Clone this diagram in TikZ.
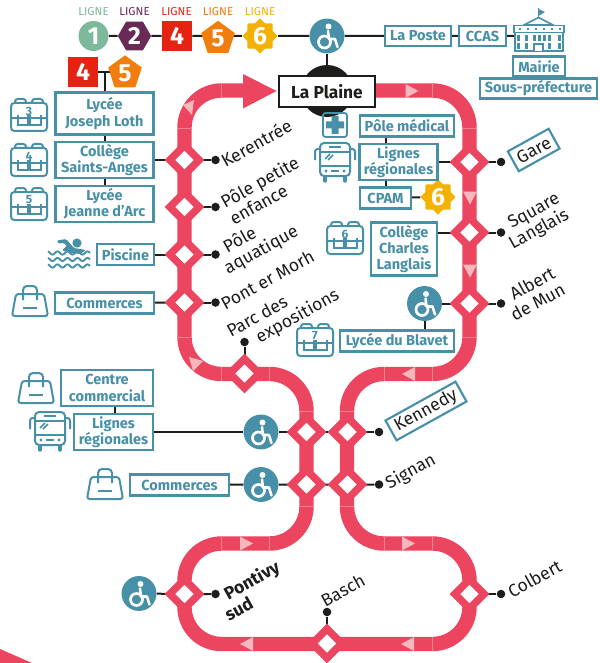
\documentclass[tikz,border=0pt]{standalone}
\usepackage{fontspec}
\setmainfont{Fira Sans}
\usetikzlibrary{shapes.geometric,calc}
\definecolor{tk}{HTML}{EC4560}
\definecolor{tkl}{HTML}{F4808F}
\definecolor{pk}{HTML}{F7B7BB}
\definecolor{tl}{HTML}{4790A8}
\definecolor{ink}{HTML}{1D1D1B}
\definecolor{c1}{HTML}{7DB99A}
\definecolor{c2}{HTML}{6A2A56}
\definecolor{c4}{HTML}{E42313}
\definecolor{c5}{HTML}{F07D0E}
\definecolor{c6}{HTML}{F3B202}
\pgfdeclarelayer{back}
\pgfsetlayers{back,main}
\tikzset{
  tb/.style={draw=tl,line width=1.6pt,fill=white,text=tl,inner sep=0pt,align=center,
    font=\fontsize{10.9}{12.2}\selectfont\bfseries},
  conn/.style={draw=ink,line width=1.5pt},
  dia/.style={diamond,aspect=1,draw=tk,fill=white,line width=5.5pt,inner sep=0pt,outer sep=0pt,minimum width=22pt,minimum height=22pt,miter limit=10},
  dot/.style={circle,fill=ink,inner sep=0pt,minimum size=6.4pt},
  wc/.style={circle,fill=tl,inner sep=0pt,minimum size=26.2pt},
  lab/.style={rotate=29,anchor=west,text=ink,inner sep=0pt,font=\fontsize{13.2}{14}\selectfont},
  num/.style={text=white,inner sep=0pt,font=\fontsize{18.5}{18.5}\selectfont\bfseries},
  ligne/.style={inner sep=0pt,font=\fontsize{8.6}{9}\selectfont},
  pkarrow/.style={fill=pk},
  wheel/.pic={
    \fill[white] (1.5,-9.5) circle (3);
    \draw[white,line width=2pt] (-2.5,6) circle (6);
    \draw[white,line width=1.9pt,line cap=round,line join=round] (1,-5) -- (2,3) -- (8,3) -- (10.5,11);
  },
  schoolbag/.pic={
    \draw[tl,line width=1.5pt,rounded corners=2.5pt] (-18,-12) rectangle (18,16);
    \draw[tl,line width=1.5pt,rounded corners=2pt] (-14,-12) -- (-14,-16) -- (-3,-16) -- (-3,-12);
    \draw[tl,line width=1.5pt,rounded corners=2pt] (3,-12) -- (3,-16) -- (14,-16) -- (14,-12);
    \draw[tl,line width=1.5pt] (-18,3) -- (18,3);
    \draw[tl,line width=1.5pt] (-11,0) -- (-11,10) -- (-1,10) -- (-1,0);
    \draw[tl,line width=1.5pt] (1,0) -- (1,10) -- (12,10) -- (12,0);
    \node[text=tl,inner sep=0pt,font=\fontsize{9}{9}\selectfont\bfseries] at (0,-4) {#1};
  },
  shopbag/.pic={
    \draw[tl,line width=1.5pt,rounded corners=2pt] (-14,-7) -- (14,-7) -- (18,15) -- (-18,15) -- cycle;
    \draw[tl,line width=1.5pt,rounded corners=3pt] (-7,-1) -- (-7,-15) -- (7,-15) -- (7,-1);
    \draw[tl,line width=1.5pt] (-7,7) -- (7,7);
  },
  buspic/.pic={
    \draw[tl,line width=1.5pt,rounded corners=3pt] (-15,-20) rectangle (15,13);
    \draw[tl,line width=1.5pt] (-15,-11) -- (15,-11);
    \draw[tl,line width=1.5pt] (-15,3) -- (15,3);
    \draw[tl,line width=1.5pt] (-6,-16) -- (6,-16);
    \draw[tl,line width=1.2pt] (-10,-4) -- (-5,-9) (-7,-3) -- (-2,-8);
    \fill[tl] (-9,8) circle (1.6) (9,8) circle (1.6);
    \draw[tl,line width=1.2pt] (-4,8) -- (4,8);
    \draw[tl,line width=1.5pt,rounded corners=2pt] (-15,-14) -- (-20,-14) -- (-20,-3);
    \draw[tl,line width=1.5pt,rounded corners=2pt] (15,-14) -- (20,-14) -- (20,-3);
    \draw[tl,line width=2.6pt,line cap=round] (-10,14) -- (-10,18) (10,14) -- (10,18);
  },
}
\newcommand{\tbx}[6]{\node[tb,minimum width=#4*0.75pt-1.5pt,minimum height=#5*0.75pt-1.5pt] (#1) at (#2,#3) {#6};}
\newcommand{\pkr}[2]{\fill[pkarrow] (#1-6.5,#2-7) -- (#1+6.5,#2) -- (#1-6.5,#2+7) -- cycle;}
\newcommand{\pkl}[2]{\fill[pkarrow] (#1+6.5,#2-7) -- (#1-6.5,#2) -- (#1+6.5,#2+7) -- cycle;}
\newcommand{\pkd}[2]{\fill[pkarrow] (#1-7,#2-6.5) -- (#1,#2+6.5) -- (#1+7,#2-6.5) -- cycle;}
\begin{document}
\begin{tikzpicture}[x=0.75pt,y=-0.75pt]
\useasboundingbox (0,0) rectangle (599,663);
\begin{pgfonlayer}{back}
\fill[white] (0,0) rectangle (599,663);
\end{pgfonlayer}
% partial shape at the bottom-left edge
\fill[tk] (0,649) -- (32,663) -- (0,663) -- cycle;
% track
\draw[tk,line width=10.8pt,rounded corners=27.75pt] (243,90.5) -- (184.5,90.5) -- (184.5,374) -- (306.5,374) -- (306.5,543.5) -- (184.5,543.5) -- (184.5,644) -- (469.5,644) -- (469.5,543.5) -- (347,543.5) -- (347,374) -- (469.5,374) -- (469.5,90.5) -- (360,90.5);
\fill[tk] (243,74) -- (276.5,91) -- (243,108.5) -- cycle;
% joints
\foreach \a/\b in {221.5/90.5,432.5/90.5,221.5/374,269.5/374,384/374,432.5/374,221.5/543.5,269.5/543.5,384/543.5,432.5/543.5,432.5/644}
  \draw[tkl,line width=0.5pt] (\a,\b-7.2) -- (\a,\b+7.2);
\foreach \a/\b in {184.5/128,469.5/128,184.5/337,469.5/337,347/411,306.5/411,347/506.5,306.5/506.5}
  \draw[tkl,line width=0.5pt] (\a-7.2,\b) -- (\a+7.2,\b);
% direction marks
\pkr{412}{91}\pkd{470}{198}\pkd{470}{271}\pkl{408.5}{374}\pkr{246.5}{543.5}\pkr{408.5}{543.5}\pkl{407.5}{644}\pkl{246.5}{644}
\fill[pkarrow] (194,100) -- (183,105) -- (192,115) -- cycle;
\fill[pkarrow] (189,357) -- (203,361) -- (193,371) -- cycle;
% stations
\foreach \n/\x/\y in {d1/184.5/160,d2/184.5/207,d3/184.5/254.5,d4/184.5/302.5,dm/244.5/373.5,dk1/306.5/432,dk2/347.5/432,ds1/306.5/484.5,ds2/347.5/484.5,dg/469.5/162,dq/469.5/232.5,da/469.5/303.5,dc/469.5/594,db/327/643.5,dp/184.5/594}
  \node[dia] (\n) at (\x,\y) {};
\foreach \n/\x/\y in {t1/215.5/160,t2/215.5/207,t3/215.5/254.5,t4/215.5/302.5,tm/244.5/342,tk1/379/432,ts/379/484.5,tg/501/162,tq/501/232.5,ta/501/303.5,tc/501/594,tb1/327/612,tp/215.5/594}
  \node[dot] (\n) at (\x,\y) {};
% la plaine
\fill[ink] (327,91) circle[radius=26];
\node[draw=ink,line width=1.7pt,fill=white,inner sep=0pt,minimum width=72pt,minimum height=23.5pt,font=\fontsize{13}{13}\selectfont\bfseries,text=ink] (plaine) at (327,91.5) {La Plaine};
% line symbols
\node[circle,fill=c1,inner sep=0pt,minimum size=22.5pt,num] (s1) at (93.5,36) {1};
\node[regular polygon,regular polygon sides=6,fill=c2,inner sep=0pt,minimum size=25pt,num] (s2) at (134.5,36) {2};
\node[rectangle,fill=c4,inner sep=0pt,minimum size=22.5pt,num] (s4) at (177,36) {4};
\node[regular polygon,regular polygon sides=5,fill=c5,inner sep=0pt,minimum size=26.5pt,num] (s5) at (218,38.5) {5};
\node[star,star points=8,star point ratio=1.3,fill=c6,inner sep=0pt,minimum size=26.5pt,num] (s6) at (260,36) {6};
\node[rectangle,fill=c4,inner sep=0pt,minimum size=22.5pt,num] (r4) at (83,72) {4};
\node[regular polygon,regular polygon sides=5,fill=c5,inner sep=0pt,minimum size=26.5pt,num] (r5) at (125,73) {5};
\node[star,star points=8,star point ratio=1.3,fill=c6,inner sep=0pt,minimum size=26.5pt,num] (r6) at (438,197) {6};
\node[ligne,text=c1] (l1) at (93.5,12) {LIGNE};
\node[ligne,text=c2] (l2) at (134.5,12) {LIGNE};
\node[ligne,text=c4] (l4) at (176.5,12) {LIGNE};
\node[ligne,text=c5] (l5) at (218,12) {LIGNE};
\node[ligne,text=c6] (l6) at (260,12) {LIGNE};
% wheelchair points
\foreach \n/\x/\y in {w1/327/36,w2/424.5/303.5,w3/261/432,w4/261/484.5,w5/139/593.5}{
  \node[wc] (\n) at (\x,\y) {};
  \pic at (\x,\y) {wheel};
}
% boxes
\tbx{lp}{418}{36}{68}{22}{La Poste}
\tbx{ccas}{482.5}{36}{49}{22}{CCAS}
\tbx{mairie}{539}{66.5}{54}{22}{Mairie}
\tbx{sous}{538.5}{88.5}{119}{22}{Sous-préfecture}
\tbx{loth}{104.5}{113.5}{100}{44}{Lycée\\Joseph Loth}
\tbx{anges}{104.5}{160}{100}{38}{Collège\\Saints-Anges}
\tbx{jeanne}{104.5}{204}{100}{38}{Lycée\\Jeanne d’Arc}
\tbx{pisc}{125.5}{254.5}{59}{23}{Piscine}
\tbx{comm}{104.5}{303}{101}{23}{Commerces}
\tbx{centre}{107}{388}{94}{38}{Centre\\commercial}
\tbx{lign}{113.5}{432}{81}{38}{Lignes\\régionales}
\tbx{comm2}{179.5}{485}{101}{23}{Commerces}
\tbx{pmed}{407}{126}{96}{23}{Pôle médical}
\tbx{lign2}{398.5}{162}{80}{38}{Lignes\\régionales}
\tbx{cpam}{385.5}{198}{53}{23}{CPAM}
\tbx{charles}{404}{249}{68}{55}{Collège\\Charles\\Langlais}
\tbx{blav}{397}{341}{116}{23}{Lycée du Blavet}
% rotated label boxes
\node[draw=tl,line width=1.6pt,fill=white,text=ink,rotate=29,inner sep=0pt,minimum width=35pt,minimum height=17pt,font=\fontsize{13.2}{14}\selectfont] (gare) at (533.7,150) {Gare};
\node[draw=tl,line width=1.6pt,fill=white,text=ink,rotate=29,inner sep=0pt,minimum width=60pt,minimum height=17pt,font=\fontsize{13.2}{14}\selectfont] (kenn) at (426,411) {Kennedy};
% labels
\node[lab] (n1) at (222,162) {Kerentrée};
\node[lab,align=left] (n2) at (226,211) {Pôle petite\\enfance};
\node[lab,align=left] (n3) at (221,262) {\hspace*{7pt}Pôle\\aquatique};
\node[lab] (n4) at (222,305) {Pont er Morh};
\node[lab,align=left] (n5) at (233,342) {Parc des\\\hspace*{17pt}expositions};
\node[lab,align=left] (n6) at (506,238) {\hspace*{7pt}Square\\Langlais};
\node[lab,align=left] (n7) at (507,308) {\hspace*{7pt}Albert\\de Mun};
\node[lab] (n8) at (387,485) {Signan};
\node[lab] (n9) at (509,593) {Colbert};
\node[lab] (n10) at (322,602) {Basch};
\node[lab,align=left,font=\fontsize{13.2}{14}\selectfont\bfseries] (n11) at (221,607) {\hspace*{7pt}Pontivy\\sud};
% pictograms
\pic at (29,115) {schoolbag=3};
\pic at (29,160) {schoolbag=4};
\pic at (29,204) {schoolbag=5};
\pic at (345,238) {schoolbag=6};
\pic at (315,340) {schoolbag=7};
\pic at (30,301) {shopbag};
\pic at (36,388) {shopbag};
\pic at (105,484) {shopbag};
\pic at (335,163) {buspic};
\pic at (50,432) {buspic};
% pole medical cross
\node[draw=tl,line width=1.4pt,rounded corners=2pt,inner sep=0pt,minimum size=18pt] (plus) at (335,125) {};
\fill[tl] (331.5,116) rectangle (338.5,134) (326,121.5) rectangle (344,128.5);
% swimmer
\fill[tl] (77,243) circle (4.6);
\fill[tl,rounded corners=1pt] (57,240.5) -- (66,239) -- (74,248) -- (86,250) -- (80,254) -- (66,252) -- (62,250) -- (67,246) -- (64,243) -- (58,243.5) -- cycle;
\foreach \w in {253,259.5,266}
  \draw[tl,line width=1.4pt] plot[domain=48:90,samples=50,smooth] (\x,{\w+1.6*sin(\x*36)});
% town hall
\draw[tl,line width=1.2pt] (538.5,8) -- (538.5,18);
\fill[tl] (538.5,9) -- (545,12) -- (538.5,16) -- cycle;
\draw[tl,line width=1.2pt] (524,25) -- (538.5,17.5) -- (553,25) -- cycle;
\draw[tl,line width=1.2pt] (514,25.5) rectangle (564,32.5);
\draw[tl,line width=1.2pt] (515,32.5) rectangle (563,51);
\fill[white] (533,44) rectangle (544,51);
\draw[tl,line width=1.2pt] (534,51) -- (534,44) -- (543,44) -- (543,51);
\foreach \u in {520,528,536,544,552,560}{
  \fill[tl] (\u-1.3,27.7) rectangle (\u+1.3,30.3);
}
\foreach \u in {518.5,526,549,559.5}{
  \fill[tl] (\u-1.5,35) rectangle (\u+1.5,41);
  \fill[tl] (\u-1.5,43) rectangle (\u+1.5,49);
}
\foreach \u in {534,539,544}
  \fill[tl] (\u-1.5,35) rectangle (\u+1.5,41);
\coordinate (mp) at (514,36);
\coordinate (jn) at (104.5,72);
\coordinate (pm1) at (386,126);
\coordinate (cp1) at (386,198);
\coordinate (bl1) at (424.5,340);
\coordinate (cc1) at (115,395);
\coordinate (lg1) at (115,425);
\begin{pgfonlayer}{back}
\draw[conn] (s1) -- (s2) -- (s4) -- (s5 |- s4) -- (s6) -- (w1) -- (lp) -- (ccas) -- (mp);
\draw[conn] (w1) -- (plaine);
\draw[conn] (r4) -- (r5 |- r4);
\draw[conn] (jn) -- (loth) -- (anges) -- (jeanne);
\draw[conn] (anges) -- (d1);
\draw[conn] (pisc) -- (d3);
\draw[conn] (comm) -- (d4);
\draw[conn] (cc1) -- (lg1);
\draw[conn] (lign) -- (w3) -- (dk1) -- (dk2) -- (tk1);
\draw[conn] (comm2) -- (w4) -- (ds1) -- (ds2) -- (ts);
\draw[conn] (pm1) -- (cp1);
\draw[conn] (cpam) -- (r6);
\draw[conn] (lign2) -- (dg) -- (tg);
\draw[conn] (charles.east |- dq) -- (dq) -- (tq);
\draw[conn] (w2) -- (da) -- (ta);
\draw[conn] (w2) -- (bl1);
\draw[conn] (d1) -- (t1);
\draw[conn] (d2) -- (t2);
\draw[conn] (d3) -- (t3);
\draw[conn] (d4) -- (t4);
\draw[conn] (dm) -- (tm);
\draw[conn] (dc) -- (tc);
\draw[conn] (db) -- (tb1);
\draw[conn] (w5) -- (dp) -- (tp);
\end{pgfonlayer}
\end{tikzpicture}
\end{document}
